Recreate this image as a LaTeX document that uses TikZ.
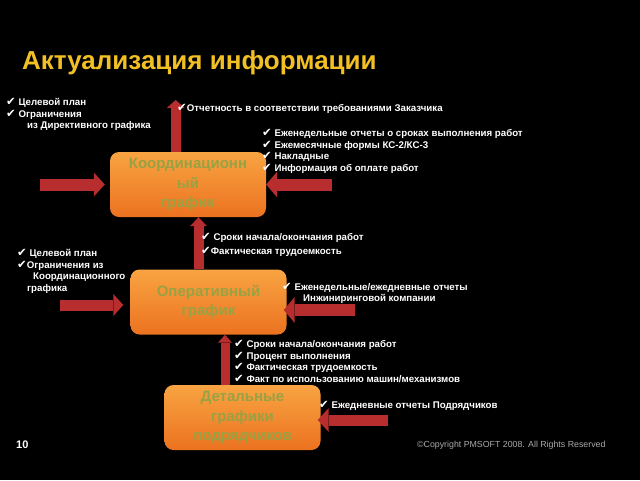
\documentclass[tikz,border=0pt]{standalone}
\usepackage{fontspec}
\setmainfont{Liberation Sans}
\newfontfamily\symf{DejaVu Sans}
\usetikzlibrary{arrows.meta}
\definecolor{ttl}{RGB}{242,192,36}
\definecolor{arr}{RGB}{184,46,46}
\definecolor{boxtxt}{RGB}{152,162,66}
\definecolor{boxtop}{RGB}{248,164,66}
\definecolor{boxbot}{RGB}{236,114,32}
\definecolor{cpy}{RGB}{170,170,170}
\newcommand\ck{{\symf\fontsize{11.5}{10}\selectfont ✔}}
\begin{document}
\begin{tikzpicture}[x=1pt,y=-1pt,
  plan/.style={rounded corners=9pt, top color=boxtop, bottom color=boxbot, draw=none,
    minimum width=156pt, minimum height=65pt, inner sep=0pt, text=boxtxt,
    font=\fontsize{15}{19.5}\selectfont\bfseries, align=center},
  note/.style={anchor=west, inner sep=0pt, text=white,
    font=\fontsize{9.7}{11.7}\selectfont\bfseries, align=left},
  barrow/.style n args={3}{draw=arr, line width=#1,
    -{Triangle[width=#2, length=#3, line width=0pt]}}
]
\fill[black] (0,0) rectangle (640,480);
\useasboundingbox (0,0) rectangle (640,480);

\node[anchor=base west, inner sep=0pt, text=ttl, font=\fontsize{26}{30}\selectfont\bfseries] (title) at (22,69) {Актуализация информации};

\node[plan] (k) at (188,184.5) {Координационн\\ый\\график};
\node[plan] (o) at (208.5,302) {Оперативный\\график};
\node[plan] (d) at (242.5,417.5) {Детальные\\графики\\подрядчиков};

% arrows
\coordinate (kin) at (40,184.5);
\coordinate (kout) at (175.7,100);
\coordinate (kr) at (332,184.5);
\coordinate (oin) at (60,305);
\coordinate (orr) at (355,310);
\coordinate (dr) at (388,420);

\draw[barrow={12pt}{24pt}{11pt}, shorten >=5pt] (kin) -- (k.west);
\draw[barrow={10pt}{18pt}{8pt}] (k.north -| kout) -- (kout);
\draw[barrow={12pt}{26pt}{11pt}] (kr) -- (k.east);
\draw[barrow={10pt}{17pt}{9pt}] ([xshift=-10pt]o.north) -- ([xshift=10.5pt]k.south);
\draw[barrow={11pt}{22pt}{10pt}, shorten >=7pt] (oin) -- (o.west |- oin);
\draw[barrow={12pt}{26pt}{11pt}, shorten >=-3pt] (orr) -- (o.east |- orr);
\draw[barrow={9pt}{14pt}{8pt}] ([xshift=-17.5pt]d.north) -- ([xshift=16.5pt]o.south);
\draw[barrow={11pt}{24pt}{11pt}, shorten >=-3pt] (dr) -- (d.east |- dr);

% notes
\node[note] (nA) at (6,114.5) {\ck\ Целевой план\\\ck\ Ограничения\\\hspace*{21pt}из Директивного графика};
\node[note] (nB) at (177,109) {\ck Отчетность в соответствии требованиями Заказчика};
\node[note] (nC) at (262,151.5) {\ck\ Еженедельные отчеты о сроках выполнения работ\\\ck\ Ежемесячные формы КС-2/КС-3\\\ck\ Накладные\\\ck\ Информация об оплате работ};
\node[note, font=\fontsize{9.7}{13.4}\selectfont\bfseries] (nD) at (201,245) {\ck\ Сроки начала/окончания работ\\\ck Фактическая трудоемкость};
\node[note] (nE) at (17,271.5) {\ck\ Целевой план\\\ck Ограничения из\\\hspace*{16pt}Координационного\\\hspace*{10pt}графика};
\node[note] (nF) at (282,293.5) {\ck\ Еженедельные/ежедневные отчеты\\\hspace*{21pt}Инжиниринговой компании};
\node[note] (nG) at (234,361.5) {\ck\ Сроки начала/окончания работ\\\ck\ Процент выполнения\\\ck\ Фактическая трудоемкость\\\ck\ Факт по использованию машин/механизмов};
\node[note] (nH) at (319,406) {\ck\ Ежедневные отчеты Подрядчиков};

\node[anchor=west, inner sep=0pt, text=white, font=\fontsize{11}{13}\selectfont\bfseries] (num) at (16,445) {10};
\node[anchor=west, inner sep=0pt, text=cpy, font=\fontsize{8.8}{11}\selectfont] (cp) at (417,445) {\textcopyright Copyright PMSOFT 2008. All Rights Reserved};
\end{tikzpicture}
\end{document}
